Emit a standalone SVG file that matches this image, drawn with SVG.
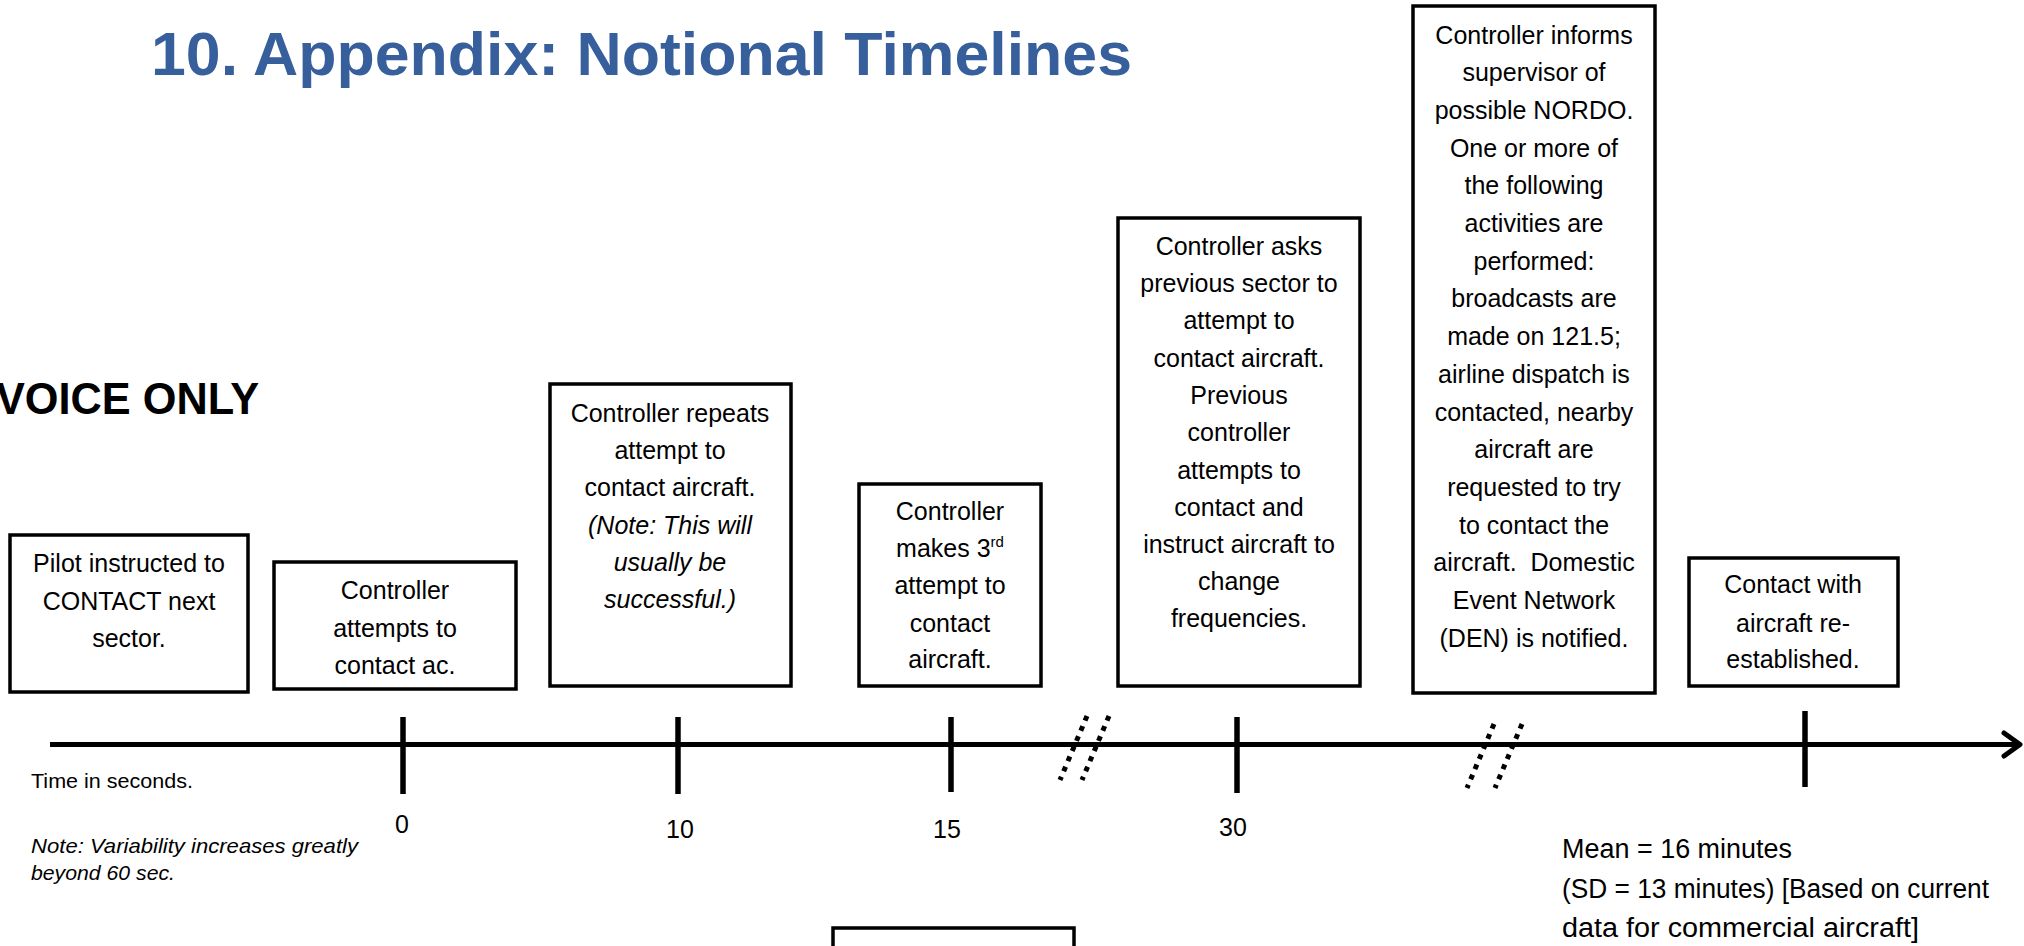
<svg xmlns="http://www.w3.org/2000/svg" width="2024" height="946" viewBox="0 0 2024 946">
<style>
  .box { fill: #fff; stroke: #000; stroke-width: 3.5; }
  .bt { font-family: "Liberation Sans", Arial, sans-serif; font-size: 25px; text-anchor: middle; fill: #000; }
  .it { font-style: italic; }
  .lbl { font-family: "Liberation Sans", Arial, sans-serif; font-size: 25px; text-anchor: middle; fill: #000; }
  .note { font-family: "Liberation Sans", Arial, sans-serif; font-size: 21px; fill: #000; }
  .stat { font-family: "Liberation Sans", Arial, sans-serif; font-size: 27px; fill: #000; }
  .axis { stroke: #000; stroke-width: 5; fill: none; }
  .tick { stroke: #000; stroke-width: 5.5; fill: none; }
  .brk { stroke: #000; stroke-width: 5; stroke-dasharray: 5 6; fill: none; }
</style>
<rect x="0" y="0" width="2024" height="946" fill="#fff"/>

<text x="151" y="75" font-family="'Liberation Sans', Arial, sans-serif" font-weight="bold" font-size="61" fill="#365f9c" textLength="981" lengthAdjust="spacingAndGlyphs">10. Appendix: Notional Timelines</text>

<text x="-4" y="414" font-family="'Liberation Sans', Arial, sans-serif" font-weight="bold" font-size="45" fill="#000" textLength="263" lengthAdjust="spacingAndGlyphs">VOICE ONLY</text>

<g id="connectors">
  <line class="axis" x1="50" y1="744.5" x2="2019" y2="744.5"/>
  <polyline class="axis" points="2004,733 2020,744.5 2004,756" stroke-linecap="round" stroke-linejoin="round"/>
  <line class="tick" x1="403" y1="717" x2="403" y2="794"/>
  <line class="tick" x1="678" y1="717" x2="678" y2="794"/>
  <line class="tick" x1="951" y1="717" x2="951" y2="792"/>
  <line class="tick" x1="1237" y1="717" x2="1237" y2="793"/>
  <line class="tick" x1="1805" y1="711" x2="1805" y2="787"/>
  <line class="brk" x1="1087" y1="716" x2="1060" y2="780"/>
  <line class="brk" x1="1109" y1="716" x2="1082" y2="780"/>
  <line class="brk" x1="1494" y1="724" x2="1467" y2="788"/>
  <line class="brk" x1="1522" y1="724" x2="1495" y2="788"/>
</g>

<g id="node-pilot">
  <rect class="box" x="10" y="535" width="238" height="157"/>
  <text class="bt" x="129" y="572">Pilot instructed to</text>
  <text class="bt" x="129" y="610">CONTACT next</text>
  <text class="bt" x="129" y="647">sector.</text>
</g>

<g id="node-attempt1">
  <rect class="box" x="274" y="562" width="242" height="127"/>
  <text class="bt" x="395" y="599">Controller</text>
  <text class="bt" x="395" y="637">attempts to</text>
  <text class="bt" x="395" y="674">contact ac.</text>
</g>

<g id="node-repeat">
  <rect class="box" x="550" y="384" width="241" height="302"/>
  <text class="bt" x="670" y="422">Controller repeats</text>
  <text class="bt" x="670" y="459">attempt to</text>
  <text class="bt" x="670" y="496">contact aircraft.</text>
  <text class="bt it" x="670" y="534">(Note: This will</text>
  <text class="bt it" x="670" y="571">usually be</text>
  <text class="bt it" x="670" y="608">successful.)</text>
</g>

<g id="node-third">
  <rect class="box" x="859" y="484" width="182" height="202"/>
  <text class="bt" x="950" y="520">Controller</text>
  <text class="bt" x="950" y="557">makes 3<tspan font-size="15" dy="-10">rd</tspan></text>
  <text class="bt" x="950" y="594">attempt to</text>
  <text class="bt" x="950" y="632">contact</text>
  <text class="bt" x="950" y="668">aircraft.</text>
</g>

<g id="node-previous">
  <rect class="box" x="1118" y="218" width="242" height="468"/>
  <text class="bt" x="1239" y="255">Controller asks</text>
  <text class="bt" x="1239" y="292">previous sector to</text>
  <text class="bt" x="1239" y="329">attempt to</text>
  <text class="bt" x="1239" y="367">contact aircraft.</text>
  <text class="bt" x="1239" y="404">Previous</text>
  <text class="bt" x="1239" y="441">controller</text>
  <text class="bt" x="1239" y="479">attempts to</text>
  <text class="bt" x="1239" y="516">contact and</text>
  <text class="bt" x="1239" y="553">instruct aircraft to</text>
  <text class="bt" x="1239" y="590">change</text>
  <text class="bt" x="1239" y="627">frequencies.</text>
</g>

<g id="node-supervisor">
  <rect class="box" x="1413" y="6" width="242" height="687"/>
  <text class="bt" x="1534" y="43.5">Controller informs</text>
  <text class="bt" x="1534" y="81.2">supervisor of</text>
  <text class="bt" x="1534" y="118.9">possible NORDO.</text>
  <text class="bt" x="1534" y="156.6">One or more of</text>
  <text class="bt" x="1534" y="194.3">the following</text>
  <text class="bt" x="1534" y="232">activities are</text>
  <text class="bt" x="1534" y="269.7">performed:</text>
  <text class="bt" x="1534" y="307.4">broadcasts are</text>
  <text class="bt" x="1534" y="345.1">made on 121.5;</text>
  <text class="bt" x="1534" y="382.8">airline dispatch is</text>
  <text class="bt" x="1534" y="420.5">contacted, nearby</text>
  <text class="bt" x="1534" y="458.2">aircraft are</text>
  <text class="bt" x="1534" y="495.9">requested to try</text>
  <text class="bt" x="1534" y="533.6">to contact the</text>
  <text class="bt" x="1534" y="571.3" xml:space="preserve">aircraft.  Domestic</text>
  <text class="bt" x="1534" y="609">Event Network</text>
  <text class="bt" x="1534" y="646.7">(DEN) is notified.</text>
</g>

<g id="node-reestablished">
  <rect class="box" x="1689" y="558" width="209" height="128"/>
  <text class="bt" x="1793" y="593">Contact with</text>
  <text class="bt" x="1793" y="632">aircraft re-</text>
  <text class="bt" x="1793" y="668">established.</text>
</g>

<g id="node-partial">
  <rect class="box" x="833" y="928" width="241" height="40"/>
</g>

<g id="labels">
  <text class="lbl" x="402" y="833">0</text>
  <text class="lbl" x="680" y="838">10</text>
  <text class="lbl" x="947" y="838">15</text>
  <text class="lbl" x="1233" y="836">30</text>
  <text class="note" x="31" y="788" textLength="162" lengthAdjust="spacingAndGlyphs">Time in seconds.</text>
  <text class="note it" x="31" y="853" textLength="327" lengthAdjust="spacingAndGlyphs">Note: Variability increases greatly</text>
  <text class="note it" x="31" y="880" textLength="144" lengthAdjust="spacingAndGlyphs">beyond 60 sec.</text>
  <text class="stat" x="1562" y="858" textLength="230" lengthAdjust="spacingAndGlyphs">Mean = 16 minutes</text>
  <text class="stat" x="1562" y="898" textLength="427" lengthAdjust="spacingAndGlyphs">(SD = 13 minutes) [Based on current</text>
  <text class="stat" x="1562" y="937" textLength="357" lengthAdjust="spacingAndGlyphs">data for commercial aircraft]</text>
</g>
</svg>
